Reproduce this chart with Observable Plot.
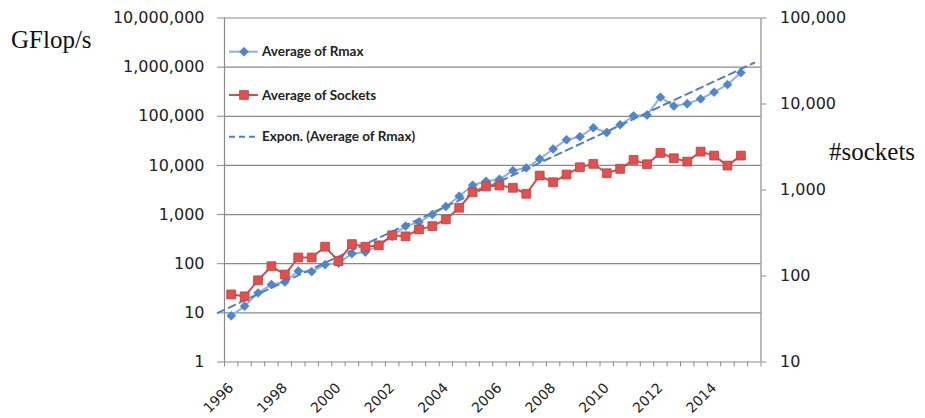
<!DOCTYPE html>
<html>
<head>
<meta charset="utf-8">
<script src="https://cdn.jsdelivr.net/npm/d3@7"></script>
<script src="https://cdn.jsdelivr.net/npm/@observablehq/plot@0.6"></script>
<style>
  html, body { margin: 0; padding: 0; background: #fff; }
  #wrap { position: relative; width: 925px; height: 418px; }
  #wrap svg.overlay { position: absolute; left: 0; top: 0; pointer-events: none; }
</style>
</head>
<body>
<div id="wrap"></div>
<script>
// Top500 list editions (categories on the x axis)
const categories = [
  "Jun 1996","Nov 1996","Jun 1997","Nov 1997","Jun 1998","Nov 1998","Jun 1999","Nov 1999",
  "Jun 2000","Nov 2000","Jun 2001","Nov 2001","Jun 2002","Nov 2002","Jun 2003","Nov 2003",
  "Jun 2004","Nov 2004","Jun 2005","Nov 2005","Jun 2006","Nov 2006","Jun 2007","Nov 2007",
  "Jun 2008","Nov 2008","Jun 2009","Nov 2009","Jun 2010","Nov 2010","Jun 2011","Nov 2011",
  "Jun 2012","Nov 2012","Jun 2013","Nov 2013","Jun 2014","Nov 2014","Jun 2015","Nov 2015"
];
const yearLabels = ["1996","1998","2000","2002","2004","2006","2008","2010","2012","2014"];

// Average of Rmax (GFlop/s), left axis
const rmax = [
  8.7, 13.7, 25.5, 37.7, 42.5, 71, 69, 96, 103, 160, 173, 240, 360, 582, 702, 1004,
  1460, 2360, 3950, 4760, 5220, 7850, 8900, 13500, 21600, 33400, 38400, 58400, 46900,
  67300, 102000, 106000, 245000, 161000, 180000, 226000, 310000, 442000, 773000
];
// Average of Sockets, right axis
const sockets = [
  61, 58, 89, 130, 104, 164, 164, 219, 149, 235, 219, 227, 297, 289, 348, 380,
  455, 622, 944, 1099, 1128, 1061, 904, 1472, 1231, 1513, 1838, 2013, 1566,
  1762, 2240, 1992, 2700, 2340, 2138, 2794, 2512, 1923, 2512
];
// Exponential trend of Rmax: start / end (category index, value)
const trendIndex = [-1, 39];
const trendValue = [10, 1230000];

const leftTicks = [1, 10, 100, 1000, 10000, 100000, 1000000, 10000000];
const rightTicks = [10, 100, 1000, 10000, 100000];

// map right-axis (10..1e5) onto left-axis (1..1e7) log scale
const toLeft = v => Math.pow(10, (Math.log10(v) - 1) * 7 / 4);

const rmaxData = rmax.map((v, i) => ({i, v, cat: categories[i]}));
const sockData = sockets.map((v, i) => ({i, v: toLeft(v), raw: v, cat: categories[i]}));
const trendData = trendIndex.map((i, k) => ({i, v: trendValue[k]}));
const boundaries = d3.range(categories.length + 1).map(k => k - 0.5);
const labelIdx = yearLabels.map(y => categories.indexOf("Jun " + y));
const rightEdge = categories.length - 0.5;

const GRID = "#8a8a8a";
const TXT = "#222";
const FONT = "DejaVu Sans";
const fmt = d3.format(",");

const chart = Plot.plot({
  width: 925,
  height: 418,
  marginLeft: 224,
  marginRight: 164.5,
  marginTop: 17.5,
  marginBottom: 56.5,
  style: {fontFamily: FONT, background: "#fff"},
  x: {type: "linear", domain: [-0.5, rightEdge]},
  y: {type: "log", domain: [1, 1e7]},
  marks: [
    Plot.gridY(leftTicks, {stroke: GRID, strokeOpacity: 1, strokeWidth: 1.2}),
    Plot.ruleX([-0.5, rightEdge], {stroke: GRID, strokeWidth: 1.2}),
    Plot.axisY(leftTicks, {anchor: "left", tickSize: 7, tickPadding: 13, stroke: GRID,
      tickFormat: fmt, fontSize: 16, fill: TXT, label: null}),
    Plot.axisY(rightTicks.map(toLeft), {anchor: "right", tickSize: 5, stroke: GRID,
      tickFormat: () => "", label: null}),
    Plot.text(rightTicks, {x: () => rightEdge, y: d => toLeft(d), text: d => fmt(d),
      textAnchor: "start", dx: 19, fontSize: 16, fill: TXT}),
    Plot.axisX(boundaries, {tickSize: 5, stroke: GRID, tickFormat: () => "", label: null}),
    Plot.axisX(labelIdx, {tickSize: 0, tickPadding: 23.5, tickRotate: -45, lineAnchor: "middle",
      textAnchor: "end", fontSize: 14, fill: TXT,
      tickFormat: i => categories[i].slice(4), label: null}),
    Plot.line(rmaxData, {x: "i", y: "v", stroke: "#8fb1de", strokeWidth: 2}),
    Plot.dot(rmaxData, {x: "i", y: "v", symbol: "diamond2", r: 4, fill: "#4f86cf", stroke: "#3f74bb", strokeWidth: 0.6}),
    Plot.line(trendData, {x: "i", y: "v", stroke: "#4f81bd", strokeWidth: 2, strokeDasharray: "7,5"}),
    Plot.line(sockData, {x: "i", y: "v", stroke: "#c8504d", strokeWidth: 2}),
    Plot.dot(sockData, {x: "i", y: "v", symbol: "square", r: 5, fill: "#e0504f", stroke: "#c0403d", strokeWidth: 0.8})
  ]
});

const wrap = document.getElementById("wrap");
wrap.appendChild(chart);

// overlay: axis titles and in-plot legend
const ov = d3.create("svg").attr("class", "overlay").attr("width", 925).attr("height", 418);
ov.append("text").attr("x", 11).attr("y", 48).attr("font-family", "Liberation Serif")
  .attr("font-size", 25).attr("fill", "#111").text("GFlop/s");
ov.append("text").attr("x", 829).attr("y", 160).attr("font-family", "Liberation Serif")
  .attr("font-size", 25).attr("fill", "#111").text("#sockets");

const legend = [
  {label: "Average of Rmax", y: 51.7, kind: "rmax"},
  {label: "Average of Sockets", y: 95, kind: "sock"},
  {label: "Expon. (Average of Rmax)", y: 136.7, kind: "trend"}
];
for (const it of legend) {
  const g = ov.append("g");
  if (it.kind === "rmax") {
    g.append("line").attr("x1", 229).attr("x2", 258).attr("y1", it.y).attr("y2", it.y)
      .attr("stroke", "#8fb1de").attr("stroke-width", 2);
    g.append("path").attr("d", d3.symbol(d3.symbolDiamond2, 50)()).attr("transform", `translate(244,${it.y})`)
      .attr("fill", "#4f86cf").attr("stroke", "#3f74bb").attr("stroke-width", 0.6);
  } else if (it.kind === "sock") {
    g.append("line").attr("x1", 229).attr("x2", 258).attr("y1", it.y).attr("y2", it.y)
      .attr("stroke", "#c8504d").attr("stroke-width", 2);
    g.append("path").attr("d", d3.symbol(d3.symbolSquare, 78)()).attr("transform", `translate(244,${it.y})`)
      .attr("fill", "#e0504f").attr("stroke", "#c0403d").attr("stroke-width", 0.8);
  } else {
    g.append("line").attr("x1", 229).attr("x2", 258).attr("y1", it.y).attr("y2", it.y)
      .attr("stroke", "#4f81bd").attr("stroke-width", 2).attr("stroke-dasharray", "6,4");
  }
  g.append("text").attr("x", 262).attr("y", it.y).attr("dy", "0.35em")
    .attr("font-family", "Lato").attr("font-weight", "bold").attr("font-size", 13.5)
    .attr("fill", "#222").text(it.label);
}
wrap.appendChild(ov.node());
</script>
</body>
</html>
